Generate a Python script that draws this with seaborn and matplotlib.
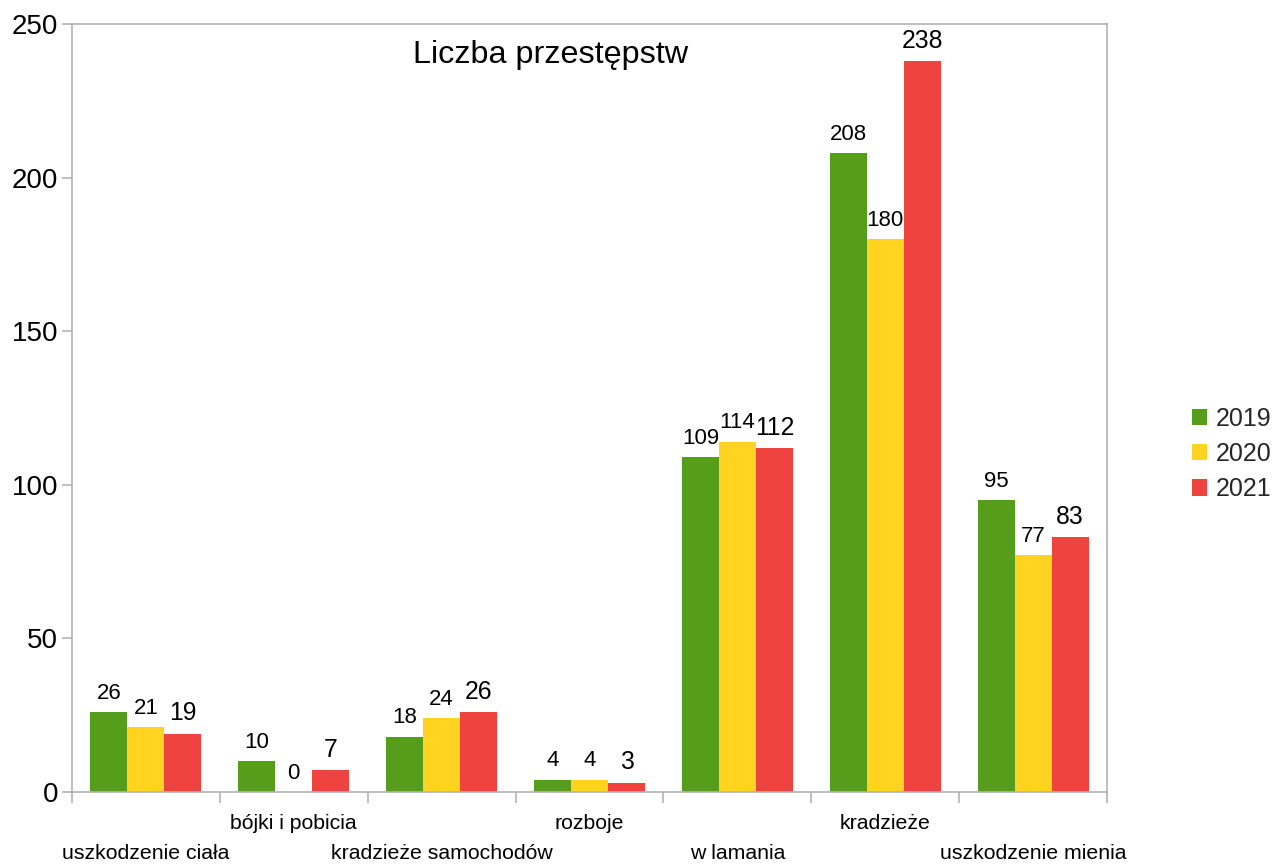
import numpy as np
import pandas as pd
import matplotlib
matplotlib.use("Agg")
import matplotlib.pyplot as plt
import matplotlib.transforms as mtrans
import seaborn as sns

# ── Data ───────────────────────────────────────────────────────────────────────
categories = ["uszkodzenie ciała", "bójki i pobicia", "kradzieże samochodów",
              "rozboje", "w lamania", "kradzieże", "uszkodzenie mienia"]
years = ["2019", "2020", "2021"]
v2019 = [26, 10, 18, 4, 109, 208, 95]
v2020 = [21, 0, 24, 4, 114, 180, 77]
v2021 = [19, 7, 26, 3, 112, 238, 83]
y_ticks = [0, 50, 100, 150, 200, 250]

COLORS = ["#579D1C", "#FFD320", "#EF4340"]
AXIS_CLR = "#B3B3B3"

df = pd.DataFrame({
    "kategoria": categories * 3,
    "rok": np.repeat(years, len(categories)),
    "liczba": v2019 + v2020 + v2021,
})

# ── Theme ──────────────────────────────────────────────────────────────────────
sns.set_theme(style="white")
plt.rcParams["font.family"] = ["Liberation Sans", "DejaVu Sans"]

fig = plt.figure(figsize=(12.75, 8.64), dpi=100, facecolor="white")
ax = fig.add_axes([72 / 1275, 72 / 864, 1035 / 1275, 768 / 864])

sns.barplot(data=df, x="kategoria", y="liczba", hue="rok", order=categories,
            hue_order=years, palette=COLORS, width=0.75, saturation=1,
            linewidth=0, ax=ax)

# value labels (2021 a bit larger, as in the original)
for cont, fs in zip(ax.containers, [16, 16, 17.8]):
    ax.bar_label(cont, labels=[str(int(v)) for v in cont.datavalues],
                 padding=6, fontsize=fs, color="black")

# ── Axes ───────────────────────────────────────────────────────────────────────
ax.set_xlim(-0.5, len(categories) - 0.5)
ax.set_ylim(0, 250)
ax.set_yticks(y_ticks)
ax.tick_params(axis="y", labelsize=20, length=7, width=1.2, color=AXIS_CLR,
               pad=3, left=True, labelcolor="black")

ax.set_xticks(range(len(categories)), labels=categories)
ax.set_xticks(np.arange(-0.5, len(categories)), minor=True)
ax.tick_params(axis="x", which="major", length=0, pad=16, labelsize=15.3,
               labelcolor="black")
ax.tick_params(axis="x", which="minor", length=8, width=1.2, color=AXIS_CLR,
               bottom=True)
# staggered labels: every other one goes to a second row
for i, lab in enumerate(ax.get_xticklabels()):
    if i % 2 == 0:
        lab.set_transform(lab.get_transform() +
                          mtrans.ScaledTranslation(0, -30 / 100, fig.dpi_scale_trans))

for s in ax.spines.values():
    s.set_visible(True)
    s.set_color(AXIS_CLR)
    s.set_linewidth(1.2)

ax.set_xlabel("")
ax.set_ylabel("")

ax.text(0.462, 0.96, "Liczba przestępstw", transform=ax.transAxes,
        ha="center", va="center", fontsize=23.3, color="black")

leg = ax.legend(loc="center left", bbox_to_anchor=(1.082, 0.44), frameon=False,
                fontsize=18, handlelength=0.62, handleheight=0.62,
                handletextpad=0.35, labelspacing=0.45, borderpad=0,
                borderaxespad=0)

fig.savefig("out.png", dpi=100, facecolor="white")
